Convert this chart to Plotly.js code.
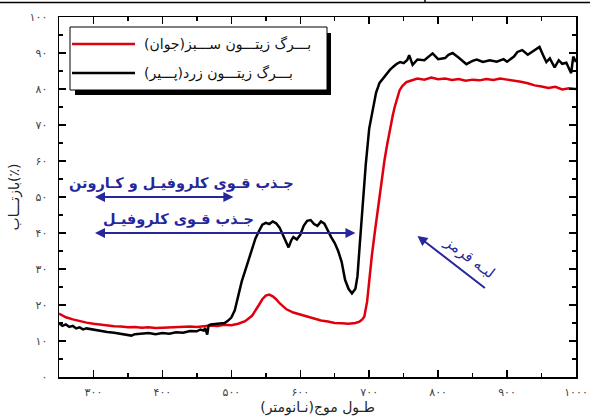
<!DOCTYPE html>
<html>
<head>
<meta charset="utf-8">
<script src="https://cdn.plot.ly/plotly-3.0.1.min.js"></script>
<style>html,body{margin:0;padding:0;background:#fff;}#chart{width:590px;height:417px;}</style>
</head>
<body>
<div id="chart"></div>
<script>
// ---- data ----
const wlRed = [250,255,260,270,280,290,300,310,320,330,340,350,360,370,380,390,400,410,420,430,440,450,460,470,480,490,500,510,520,530,540,545,550,555,560,565,570,580,590,600,610,620,630,640,650,660,670,680,686,690,693,697,700,704,708,712,715,718,722,726,730,734,737,740,744,748,751,754,760,770,780,790,800,810,820,830,840,850,860,870,880,890,900,910,920,930,940,950,960,970,980,990,1000];
const reflRed = [17.6,17.0,16.6,16.0,15.5,15.1,14.8,14.5,14.3,14.1,14.0,13.8,13.9,13.7,13.8,13.6,13.7,13.8,13.7,13.9,14.0,13.9,14.1,14.3,14.2,14.5,14.4,14.8,15.5,17.0,20.0,21.6,22.6,22.9,22.4,21.6,20.5,18.8,17.9,17.3,16.8,16.2,15.7,15.4,15.0,14.9,14.8,15.0,15.4,16.0,16.8,21.0,27.5,34.0,40.0,46.0,51.0,55.0,60.0,64.5,69.0,72.5,75.0,77.2,79.6,80.8,81.5,81.9,82.3,82.9,82.6,83.2,82.7,82.9,82.5,82.8,82.3,82.6,82.4,82.8,82.5,82.9,82.6,82.4,82.0,81.6,81.0,80.7,80.3,80.6,79.9,80.2,80.0];

const wlBlack = [250,255,260,265,270,275,280,285,290,300,310,320,330,340,350,355,360,370,380,390,400,410,420,430,440,450,455,460,462,465,467,470,480,490,495,500,505,510,515,520,525,530,535,540,545,550,555,560,565,570,575,580,583,587,590,595,600,605,610,615,620,625,630,635,640,645,650,655,660,665,670,675,680,683,686,690,695,700,705,710,715,720,725,730,735,740,745,750,755,758,763,770,780,785,792,800,810,815,821,830,841,850,856,865,875,885,895,900,910,915,922,930,940,947,952,957,962,969,975,980,986,990,993,996,1000];
const reflBlack = [15.0,14.2,14.6,13.9,14.2,13.5,13.8,13.2,13.5,13.1,12.8,12.5,12.3,12.0,11.8,11.5,11.9,12.0,12.2,11.9,12.2,12.0,12.4,12.3,12.8,12.7,13.2,12.9,13.6,11.8,14.3,14.6,14.8,15.0,15.6,16.5,18.5,22.5,26.5,29.5,32.5,35.5,38.5,40.5,42.3,42.8,42.5,43.2,42.7,41.5,39.5,37.5,36.0,38.0,38.9,38.2,39.5,42.0,43.4,43.6,42.5,42.0,43.2,42.6,40.5,38.8,37.2,35.0,32.0,27.0,24.5,23.2,24.5,28.0,36.0,47.0,59.0,69.0,74.5,79.0,81.7,83.0,84.0,85.3,86.2,87.0,87.5,87.2,88.0,89.4,86.7,88.2,88.0,88.8,89.9,88.3,88.6,89.5,90.0,88.7,86.9,87.8,88.2,87.5,88.0,87.6,88.3,87.6,89.0,90.3,90.8,89.5,90.8,91.7,89.5,87.5,88.5,86.0,88.0,87.0,87.3,85.5,84.4,89.0,87.5];

const xTickVals = [300,400,500,600,700,800,900,1000];
const xTickText = ['۳۰۰','۴۰۰','۵۰۰','۶۰۰','۷۰۰','۸۰۰','۹۰۰','۱۰۰۰'];
const yTickVals = [0,10,20,30,40,50,60,70,80,90,100];
const yTickText = ['۰','۱۰','۲۰','۳۰','۴۰','۵۰','۶۰','۷۰','۸۰','۹۰','۱۰۰'];

const seriesNames = ['بـــرگ زیتـــون ســـبز(جوان)\u200F', 'بـــرگ زیتـــون زرد(پـــیر)\u200F'];
const xTitle = 'طـول موج(نـانومتر)';
const yTitle = 'بازتـــاب(٪)';
const noteBoth = 'جـذب قـوی کلروفیـل و کـاروتن';
const noteChl = 'جـذب قـوی کلروفیـل';
const noteRedEdge = 'لبـه قرمز';

// ---- layout helpers (pixel -> paper) ----
const L = 59, R = 576, T = 17, B = 377;
const px = x => (x - L) / (R - L);
const py = y => (B - y) / (B - T);

const FONT = 'DejaVu Sans, sans-serif';
const BLUE = '#25279a';

const traces = [
  {x: wlRed, y: reflRed, type: 'scatter', mode: 'lines', name: seriesNames[0],
   line: {color: '#e0000d', width: 2.5}, showlegend: false},
  {x: wlBlack, y: reflBlack, type: 'scatter', mode: 'lines', name: seriesNames[1],
   line: {color: '#000000', width: 2.5}, showlegend: false}
];

const shapes = [
  {type: 'line', xref: 'paper', yref: 'paper', x0: px(0), x1: px(590), y0: py(2.5), y1: py(2.5), line: {color: '#000', width: 1.5}},
  {type: 'line', xref: 'paper', yref: 'paper', x0: px(425), x1: px(425), y0: py(0), y1: py(3), line: {color: '#000', width: 1.5}},
  {type: 'rect', xref: 'paper', yref: 'paper', x0: px(75), x1: px(331), y0: py(33), y1: py(95), fillcolor: '#000', line: {width: 0}},
  {type: 'rect', xref: 'paper', yref: 'paper', x0: px(70), x1: px(327), y0: py(27), y1: py(90), fillcolor: '#fff', line: {color: '#000', width: 1}},
  {type: 'line', xref: 'paper', yref: 'paper', x0: px(72), x1: px(135), y0: py(44), y1: py(44), line: {color: '#e0000d', width: 2.5}},
  {type: 'line', xref: 'paper', yref: 'paper', x0: px(72), x1: px(135), y0: py(73), y1: py(73), line: {color: '#000', width: 2.5}}
];

const annotations = [
  {xref: 'paper', yref: 'paper', x: px(142), y: py(44), xanchor: 'left', yanchor: 'middle', showarrow: false,
   text: seriesNames[0], font: {family: FONT, size: 14, color: '#111'}},
  {xref: 'paper', yref: 'paper', x: px(142), y: py(73), xanchor: 'left', yanchor: 'middle', showarrow: false,
   text: seriesNames[1], font: {family: FONT, size: 14, color: '#111'}},
  {xref: 'paper', yref: 'paper', x: px(181), y: py(183), xanchor: 'center', yanchor: 'middle', showarrow: false,
   text: '<b>' + noteBoth + '</b>', font: {family: FONT, size: 14.5, color: BLUE}},
  {xref: 'paper', yref: 'paper', x: px(178), y: py(219), xanchor: 'center', yanchor: 'middle', showarrow: false,
   text: '<b>' + noteChl + '</b>', font: {family: FONT, size: 14.5, color: BLUE}},
  {xref: 'x', yref: 'y', axref: 'x', ayref: 'y', x: 503, y: 50, ax: 300, ay: 50, text: '', showarrow: true,
   arrowside: 'end+start', arrowhead: 2, arrowsize: 1, arrowwidth: 2, arrowcolor: BLUE},
  {xref: 'x', yref: 'y', axref: 'x', ayref: 'y', x: 680, y: 40, ax: 300, ay: 40, text: '', showarrow: true,
   arrowside: 'end+start', arrowhead: 2, arrowsize: 1, arrowwidth: 2, arrowcolor: BLUE},
  {xref: 'x', yref: 'y', axref: 'x', ayref: 'y', x: 770, y: 39.2, ax: 870, ay: 24.4, text: '', showarrow: true,
   arrowhead: 2, arrowsize: 1, arrowwidth: 2, arrowcolor: BLUE},
  {xref: 'paper', yref: 'paper', x: px(469), y: py(257), xanchor: 'center', yanchor: 'middle', showarrow: false,
   textangle: 37, text: noteRedEdge, font: {family: FONT, size: 15, color: BLUE}}
];

const axisCommon = {
  showline: true, linecolor: '#000', linewidth: 1.5, mirror: 'ticks',
  ticks: 'inside', ticklen: 7, tickwidth: 1.5, tickcolor: '#000',
  showgrid: false, zeroline: false,
  tickfont: {family: FONT, size: 11, color: '#444'}
};

const layout = {
  width: 590, height: 417,
  margin: {l: L, r: 590 - R, t: T, b: 417 - B},
  paper_bgcolor: '#fff', plot_bgcolor: '#fff',
  showlegend: false,
  xaxis: Object.assign({}, axisCommon, {
    range: [250, 1000], tickmode: 'array', tickvals: xTickVals, ticktext: xTickText,
    minor: {tick0: 250, dtick: 50, ticks: 'inside', ticklen: 4, tickwidth: 1.5, tickcolor: '#000', showgrid: false},
    ticklabelstandoff: 4,
    title: {text: xTitle, font: {family: FONT, size: 14, color: '#222'}, standoff: 4}
  }),
  yaxis: Object.assign({}, axisCommon, {
    range: [0, 100], tickmode: 'array', tickvals: yTickVals, ticktext: yTickText,
    minor: {tick0: 0, dtick: 5, ticks: 'inside', ticklen: 4, tickwidth: 1.5, tickcolor: '#000', showgrid: false},
    ticklabelstandoff: 8,
    title: {text: yTitle, font: {family: FONT, size: 14, color: '#222'}, standoff: 6}
  }),
  shapes: shapes,
  annotations: annotations
};

Plotly.newPlot('chart', traces, layout, {displayModeBar: false, staticPlot: true});
</script>
</body>
</html>
